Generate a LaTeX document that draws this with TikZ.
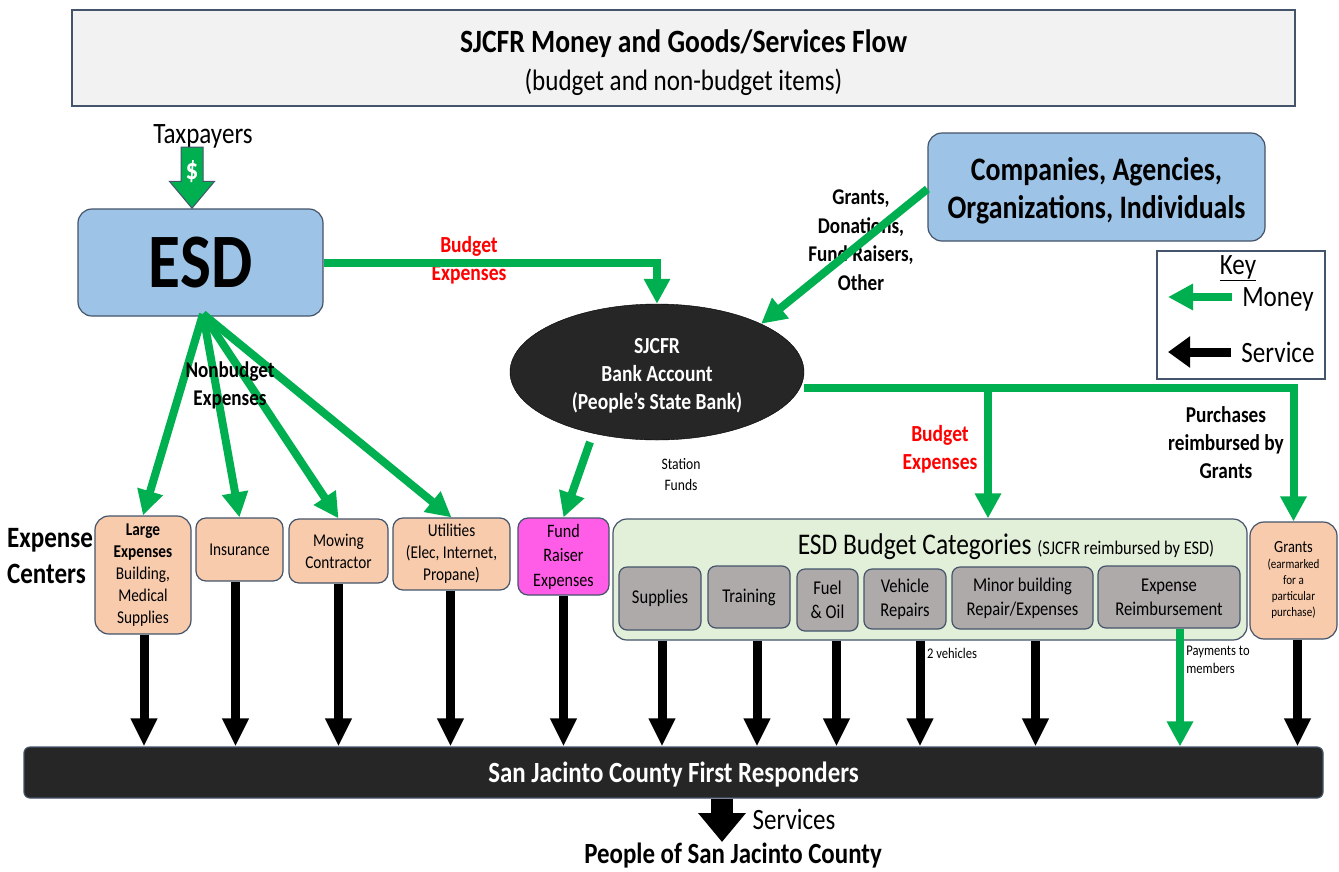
\documentclass[tikz,border=0pt]{standalone}
\usepackage{fontspec}
\setmainfont[FakeStretch=0.85]{Carlito}
\usepackage{tikz}
\usetikzlibrary{shapes.geometric,shapes.arrows,arrows.meta,positioning}
\definecolor{edgeblue}{HTML}{44546A}
\definecolor{moneygreen}{HTML}{00B050}
\definecolor{skyfill}{HTML}{9DC3E6}
\definecolor{peachfill}{HTML}{F8CBAD}
\definecolor{panelfill}{HTML}{E2F0D9}
\definecolor{greyfill}{HTML}{AEAAAA}
\definecolor{darkfill}{HTML}{262626}
\definecolor{pinkfill}{HTML}{FF5DE8}
\newcommand{\fs}[2]{\fontsize{#1}{#2}\selectfont}
\tikzset{
  box/.style={rectangle,rounded corners=#1,draw=edgeblue,line width=1.2pt,align=center,inner sep=0pt},
  box/.default=10pt,
  size/.style n args={2}{minimum width=#1,minimum height=#2},
  moneyline/.style={draw=moneygreen,line width=8pt,-{Triangle[length=25pt,width=25pt]}},
  servline/.style={draw=black,line width=9pt,-{Triangle[length=28pt,width=25pt]}},
  lbl/.style={align=center,inner sep=0pt}
}
\begin{document}
\begin{tikzpicture}[x=1pt,y=-1pt]
   \useasboundingbox[fill=white] (0,0) rectangle (1339,871);
   \node[box=0pt,fill=black!5,size={1223}{96},font=\fs{29.5}{38}] (title) at (683.5,58)
      {\rule{0pt}{31.5pt}\fs{32.5}{38}\bfseries SJCFR Money and Goods/Services Flow\\(budget and non-budget items)};
   \node[lbl,font=\fs{29.5}{30}] (taxpayers) at (203,136) {Taxpayers};
   \node[box=14pt,fill=skyfill,size={245}{107},font=\fs{77}{90}\bfseries] (esd) at (200.5,262.5) {ESD};
   \node[single arrow,draw=edgeblue,fill=moneygreen,line width=1pt,minimum height=61,minimum width=44,
      single arrow head extend=11.5,single arrow tip angle=80,inner sep=0pt,rotate=-90,anchor=tip] (taxarrow) at (192,209) {\rule{0pt}{21pt}};
   \node[lbl,text=white,font=\fs{29.5}{30}\bfseries] (dollar) at (192,172) {\$};
   \node[box=14pt,fill=skyfill,size={337}{108},font=\fs{32.8}{38}\bfseries] (donors) at (1096.5,187)
      {\rule{0pt}{30pt}Companies, Agencies,\\Organizations, Individuals};
   \node[ellipse,draw=black,fill=darkfill,text=white,align=center,inner sep=0pt,size={294}{136},font=\fs{23}{28}\bfseries] (bank) at (657,372)
      {\rule{0pt}{22pt}SJCFR\\Bank Account\\(People’s State Bank)};
   \node[box=0pt,fill=white,draw=edgeblue,size={168}{128}] (key) at (1241,315) {};
   \node[lbl,font=\fs{29.5}{30}] (keyhead) at (1238,268) {\underline{Key}};
   \node[lbl,font=\fs{29.5}{30}] (keymoney) at (1278,299) {Money};
   \node[lbl,font=\fs{29.5}{30}] (keyserv) at (1278,352) {Service};
   \node[box=14pt,fill=panelfill,size={634}{121}] (panel) at (930,579.5) {};
   \begin{scope}[every node/.style={box=10pt,fill=peachfill,font=\fs{18}{22}}]
    \node[box=14pt,size={96}{118}] (large) at (143,575) {\bfseries Large\\\bfseries Expenses\\Building,\\Medical\\Supplies};
    \node[size={87}{63}] (insurance) at (239.5,549.5) {Insurance};
    \node[size={99}{64}] (mowing) at (338.5,551) {Mowing\\Contractor};
    \node[size={117}{72}] (utilities) at (451.5,554) {Utilities\\(Elec, Internet,\\Propane)};
    \node[size={91}{77},fill=pinkfill,font=\fs{19}{24.5}] (fund) at (563.5,556.5) {Fund\\Raiser\\Expenses};
    \node[box=14pt,size={87}{117},font=\fs{13}{16}] (grants) at (1293.5,580.5) {{\fs{17}{22}Grants}\\(earmarked\\for a\\particular\\purchase)};
   \end{scope}
   \begin{scope}[every node/.style={box=8pt,fill=greyfill,font=\fs{19.5}{24}}]
    \node[size={82}{63}] (supplies) at (660,598.5) {Supplies};
    \node[size={82}{62}] (training) at (749,597) {Training};
    \node[size={61}{62}] (fuel) at (827.5,600) {Fuel\\\& Oil};
    \node[size={82}{60}] (vehicle) at (905,599) {Vehicle\\Repairs};
    \node[size={141}{62}] (minor) at (1022.5,598) {Minor building\\Repair/Expenses};
    \node[size={142}{62}] (reimb) at (1169,597) {Expense\\Reimbursement};
   \end{scope}
   \node[lbl,font=\fs{30}{30}] (budgetcat) at (1006,547) {ESD Budget Categories \fs{19.3}{30}(SJCFR reimbursed by ESD)};
   \node[box=6pt,fill=darkfill,draw=edgeblue,text=white,size={1299}{51},text height=26pt,text depth=6pt,font=\fs{29.3}{30}\bfseries] (bar) at (673.5,772.5) {San Jacinto County First Responders};
   \node[lbl,font=\fs{29.5}{30}] (services) at (794,819) {Services};
   \node[lbl,font=\fs{29.3}{30}\bfseries] (people) at (733,856) {People of San Jacinto County};
   \node[lbl,text=red,font=\fs{23}{28}\bfseries] (budgetA) at (469,260) {Budget\\Expenses};
   \node[lbl,text=red,font=\fs{23}{28}\bfseries] (budgetB) at (940,449) {Budget\\Expenses};
   \node[lbl,font=\fs{22.5}{28.5}\bfseries] (grantsin) at (861,240) {Grants,\\Donations,\\Fund Raisers,\\Other};
   \node[lbl,font=\fs{22.7}{28}\bfseries] (purchases) at (1226,443) {Purchases\\reimbursed by\\Grants};
   \node[lbl,font=\fs{16}{21}] (station) at (681,475) {Station\\Funds};
   \node[lbl,font=\fs{14.8}{18}] (twoveh) at (952,653) {2 vehicles};
   \node[lbl,align=left,font=\fs{14.8}{18}] (payments) at (1218,660) {Payments to\\members};
   \node[lbl,align=left,font=\fs{29.5}{36}\bfseries] (centers) at (50,556) {Expense\\Centers};
   \coordinate (fan) at (203,314);
   \coordinate (fundout) at (590,442);
   \coordinate (split) at (988,388);
   \coordinate (keymtip) at (1168,297);
   \coordinate (keystip) at (1168,352);
   \coordinate (servtip) at (722,842);
   \draw[moneyline] (esd.east) -| (bank.north);
   \draw[moneyline] ([yshift=-2]donors.west) -- (bank.north east);
   \draw[moneyline] ([yshift=-16]bank.east) -| (grants.north);
   \draw[moneyline] (split) -- (split |- panel.north);
   \draw[moneyline] (fundout) -- (fund.north);
   \foreach \target in {large,insurance,mowing,utilities}
    \draw[moneyline] (fan) -- (\target.north);
   \node[lbl,font=\fs{22.5}{28}\bfseries] (nonbudget) at (230,385) {Nonbudget\\Expenses};
   \foreach \src/\off in {large/1,insurance/-4,mowing/0,utilities/-1,fund/0}
    \draw[servline] ([xshift=\off]\src.south) -- ([xshift=\off]\src.south |- bar.north);
   \foreach \src/\off in {supplies/2,training/8,fuel/9,vehicle/15,minor/13}
    \draw[servline] ([xshift=\off]\src.south |- panel.south) -- ([xshift=\off]\src.south |- bar.north);
   \draw[servline] ([xshift=4]grants.south) -- ([xshift=4]grants.south |- bar.north);
   \draw[moneyline] ([xshift=11]reimb.south) -- ([xshift=11]reimb.south |- bar.north);
   \draw[moneyline] ([xshift=-10,yshift=2]keymoney.west) -- (keymtip);
   \draw[servline,-{Triangle[length=22pt,width=30pt]}] ([xshift=-10]keyserv.west) -- (keystip);
   \draw[draw=black,line width=22pt,-{Triangle[length=29pt,width=46pt]}] (servtip |- bar.south) -- (servtip);
\end{tikzpicture}
\end{document}
